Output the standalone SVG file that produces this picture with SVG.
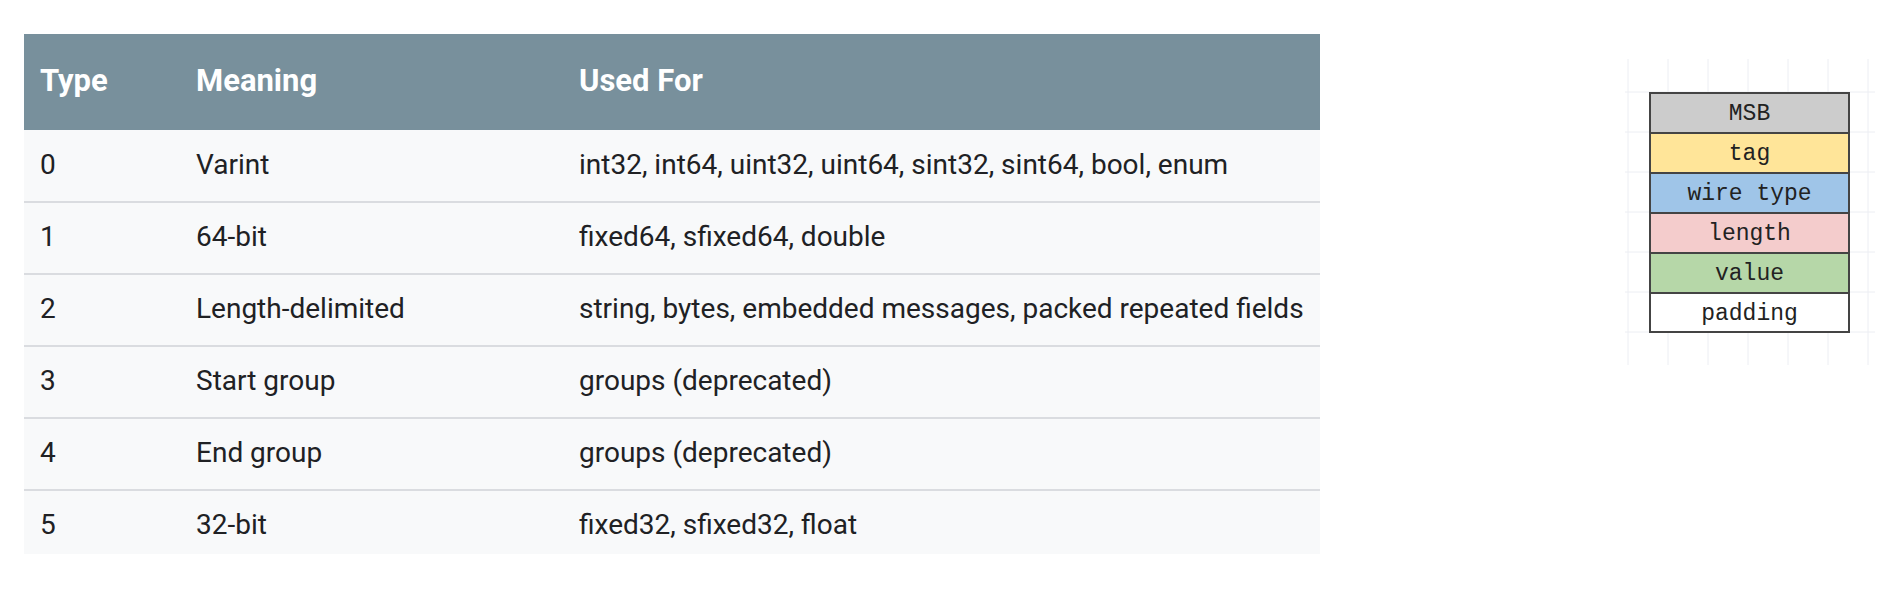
<svg xmlns="http://www.w3.org/2000/svg" width="1885" height="601" viewBox="0 0 1885 601">
<style>
.h{font-family:Roboto,"Liberation Sans",sans-serif;font-size:31px;font-weight:bold;fill:#fff}
.c{font-family:Roboto,"Liberation Sans",sans-serif;font-size:28px;fill:#202124}
.m{font-family:"Liberation Mono",monospace;font-size:23px;fill:#222;text-anchor:middle}
.sep{stroke:#dadce0;stroke-width:2}
.g{stroke:#eceef3;stroke-width:1}
.cell{stroke:#444;stroke-width:2}
</style>
<rect width="1885" height="601" fill="#fff"/>
<g id="table">
<rect x="24" y="130" width="1296" height="424" fill="#f8f9fa"/>
<rect x="24" y="34" width="1296" height="96" fill="#78909c"/>
<text class="h" x="40" y="91">Type</text><text class="h" x="196" y="91">Meaning</text><text class="h" x="579" y="91">Used For</text>
<line class="sep" x1="24" y1="202" x2="1320" y2="202"/><line class="sep" x1="24" y1="274" x2="1320" y2="274"/><line class="sep" x1="24" y1="346" x2="1320" y2="346"/><line class="sep" x1="24" y1="418" x2="1320" y2="418"/><line class="sep" x1="24" y1="490" x2="1320" y2="490"/>
<text class="c" x="40" y="174">0</text><text class="c" x="196" y="174">Varint</text><text class="c" x="579" y="174">int32, int64, uint32, uint64, sint32, sint64, bool, enum</text>
<text class="c" x="40" y="246">1</text><text class="c" x="196" y="246">64-bit</text><text class="c" x="579" y="246">fixed64, sfixed64, double</text>
<text class="c" x="40" y="318">2</text><text class="c" x="196" y="318">Length-delimited</text><text class="c" x="579" y="318">string, bytes, embedded messages, packed repeated fields</text>
<text class="c" x="40" y="390">3</text><text class="c" x="196" y="390">Start group</text><text class="c" x="579" y="390">groups (deprecated)</text>
<text class="c" x="40" y="462">4</text><text class="c" x="196" y="462">End group</text><text class="c" x="579" y="462">groups (deprecated)</text>
<text class="c" x="40" y="534">5</text><text class="c" x="196" y="534">32-bit</text><text class="c" x="579" y="534">fixed32, sfixed32, float</text>
</g>
<g id="grid">
<line class="g" x1="1628" y1="59" x2="1628" y2="365"/><line class="g" x1="1668" y1="59" x2="1668" y2="365"/><line class="g" x1="1708" y1="59" x2="1708" y2="365"/><line class="g" x1="1748" y1="59" x2="1748" y2="365"/><line class="g" x1="1788" y1="59" x2="1788" y2="365"/><line class="g" x1="1828" y1="59" x2="1828" y2="365"/><line class="g" x1="1868" y1="59" x2="1868" y2="365"/>
<line class="g" x1="1625" y1="92" x2="1875" y2="92"/><line class="g" x1="1625" y1="132" x2="1875" y2="132"/><line class="g" x1="1625" y1="172" x2="1875" y2="172"/><line class="g" x1="1625" y1="212" x2="1875" y2="212"/><line class="g" x1="1625" y1="252" x2="1875" y2="252"/><line class="g" x1="1625" y1="292" x2="1875" y2="292"/><line class="g" x1="1625" y1="332" x2="1875" y2="332"/>
</g>
<g id="msb"><rect class="cell" x="1650" y="93" width="199" height="40" fill="#cccccc"/><text class="m" x="1749.5" y="120">MSB</text></g>
<g id="tag"><rect class="cell" x="1650" y="133" width="199" height="40" fill="#ffe599"/><text class="m" x="1749.5" y="160">tag</text></g>
<g id="wire"><rect class="cell" x="1650" y="173" width="199" height="40" fill="#9fc5e8"/><text class="m" x="1749.5" y="200">wire type</text></g>
<g id="length"><rect class="cell" x="1650" y="213" width="199" height="40" fill="#f4cccc"/><text class="m" x="1749.5" y="240">length</text></g>
<g id="value"><rect class="cell" x="1650" y="253" width="199" height="40" fill="#b6d7a8"/><text class="m" x="1749.5" y="280">value</text></g>
<g id="padding"><rect class="cell" x="1650" y="293" width="199" height="39" fill="#ffffff"/><text class="m" x="1749.5" y="320">padding</text></g>
<g id="connectors"/>
</svg>
